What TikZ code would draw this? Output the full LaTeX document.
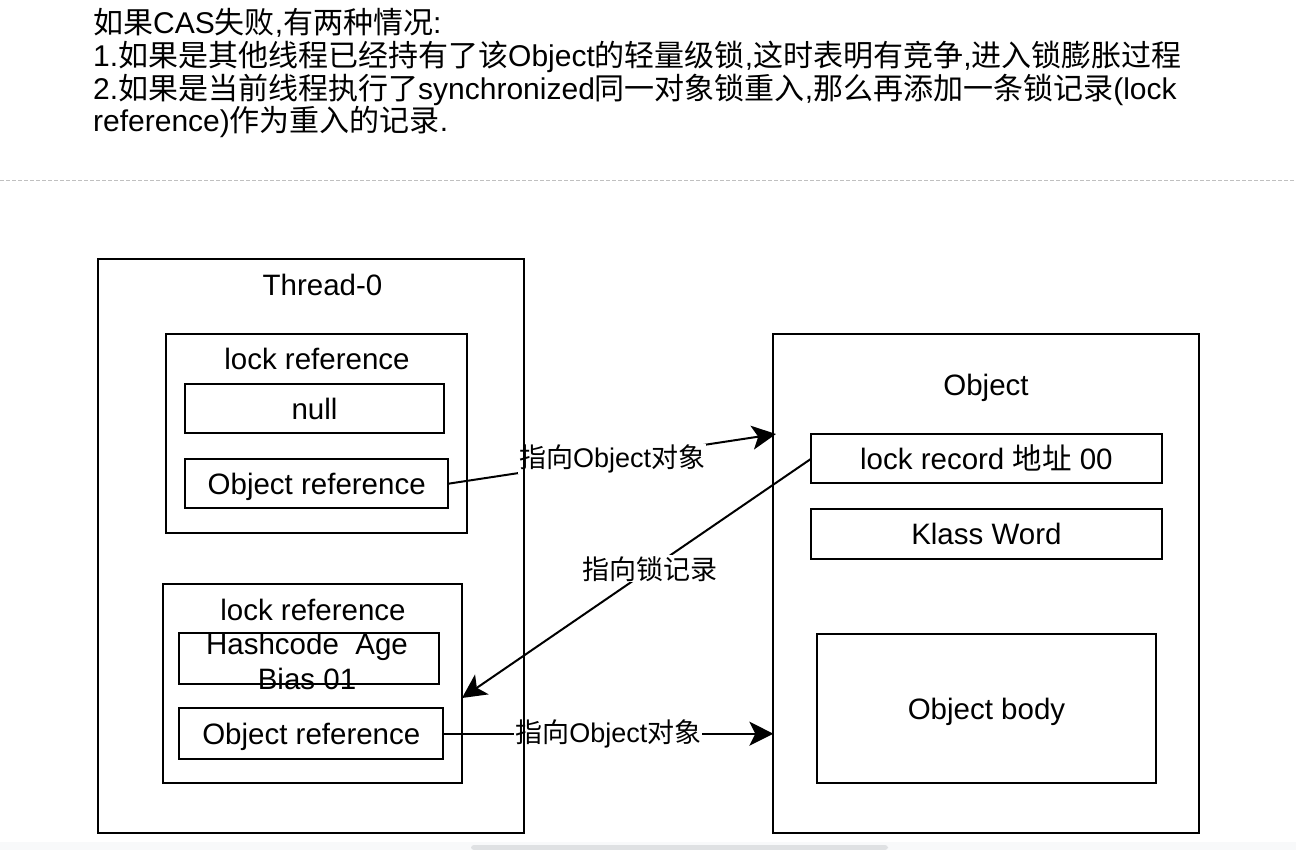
\documentclass[tikz,border=0pt]{standalone}
\usepackage{fontspec}
\setmainfont{Liberation Sans}
\newfontfamily\cjk{Noto Sans CJK SC}
\usetikzlibrary{arrows.meta}
\pgfdeclarelayer{bg}
\pgfsetlayers{bg,main}
\newcommand\zh[1]{{\cjk #1}}
\definecolor{dashgrey}{HTML}{C0C0C0}
\definecolor{stripgrey}{HTML}{F8F9FA}
\definecolor{bargrey}{HTML}{DFE1E3}
\begin{document}
\begin{tikzpicture}[x=1pt,y=-1pt,
  box/.style={draw, line width=2pt, inner sep=0pt, outer sep=0pt,
    font=\fontsize{29.5}{34}\selectfont, text height=21.5pt, text depth=0pt},
  title/.style={anchor=base, inner sep=0pt, font=\fontsize{29.5}{34}\selectfont},
  toptext/.style={anchor=base west, inner sep=0pt, font=\fontsize{30}{33}\selectfont},
  conn/.style={line width=2pt, -{Stealth[length=24pt,width=24pt,inset=6pt]}},
  lbl/.style={fill=white, inner sep=1pt, font=\fontsize{27}{30}\selectfont}
]
\useasboundingbox (0,0) rectangle (1296,850);
\begin{pgfonlayer}{bg}
\fill[white] (0,0) rectangle (1296,850);
\end{pgfonlayer}

% top explanatory text
\node[toptext] (t1) at (93,33.3) {\zh{如果}CAS\zh{失败},\zh{有两种情况}:};
\node[toptext] (t2) at (93,66.5) {1.\zh{如果是其他线程已经持有了该}Object\zh{的轻量级锁},\zh{这时表明有竞争},\zh{进入锁膨胀过程}};
\node[toptext] (t3) at (93,99.3) {2.\zh{如果是当前线程执行了}synchronized\zh{同一对象锁重入},\zh{那么再添加一条锁记录}(lock};
\node[toptext] (t4) at (93,131.7) {reference)\zh{作为重入的记录}.};

% dashed separator
\draw[dashgrey, line width=1pt, dash pattern=on 4pt off 2pt] (0,181) -- (1296,181);

% Thread-0 side
\node[box, minimum width=425.7pt, minimum height=574pt] (thread) at (311.2,546.3) {};
\node[title] (threadtitle) at (322.5,296) {Thread-0};

\node[box, minimum width=300.7pt, minimum height=199pt] (lockA) at (316.3,433.8) {};
\node[title] (lockAtitle) at (317,369.3) {lock reference};
\node[box, minimum width=259pt, minimum height=49pt] (nullbox) at (314.5,408.8) {null};
\node[box, minimum width=263.3pt, minimum height=49.3pt] (orefA) at (316.7,483.7) {Object reference};

\node[box, minimum width=299pt, minimum height=199pt] (lockB) at (312.2,683.5) {};
\node[title] (lockBtitle) at (313,620) {lock reference};
\node[box, minimum width=260pt, minimum height=50.7pt] (hash) at (309.3,658.7) {};
\node[inner sep=0pt, align=center, font=\fontsize{29.5}{35}\selectfont] (hashtxt) at (307,661) {Hashcode\ \ Age\\Bias 01};
\node[box, minimum width=264pt, minimum height=50.7pt] (orefB) at (311.3,733.7) {Object reference};

% Object side
\node[box, minimum width=425.7pt, minimum height=499pt] (objbox) at (986.2,583.5) {};
\node[title] (objtitle) at (986,395) {Object};
\node[box, minimum width=350.7pt, minimum height=49pt] (lockrec) at (986.4,458.8) {lock record \zh{地址} 00};
\node[box, minimum width=350.7pt, minimum height=50pt] (klass) at (986.4,534) {Klass Word};
\node[box, minimum width=338.4pt, minimum height=149.3pt] (body) at (986.5,708.7) {Object body};

% connectors (below the box borders)
\coordinate (tipA) at (776,434);
\coordinate (tipB) at (462,698);
\begin{pgfonlayer}{bg}
\draw[conn] (orefA.east) -- node[lbl, pos=0.5] (lblA) {\zh{指向}Object\zh{对象}} (tipA);
\draw[conn] (lockrec.west) -- node[lbl, pos=0.46] (lblB) {\zh{指向锁记录}} (tipB);
\draw[conn] (orefB.east) -- node[lbl, pos=0.5] (lblC) {\zh{指向}Object\zh{对象}} (orefB.east -| objbox.west);
\end{pgfonlayer}

% bottom strip
\fill[stripgrey] (0,842) rectangle (1296,850);
\fill[bargrey, rounded corners=3pt] (471,850) -- (471,845) -- (888,845) -- (888,850) -- cycle;
\end{tikzpicture}
\end{document}
